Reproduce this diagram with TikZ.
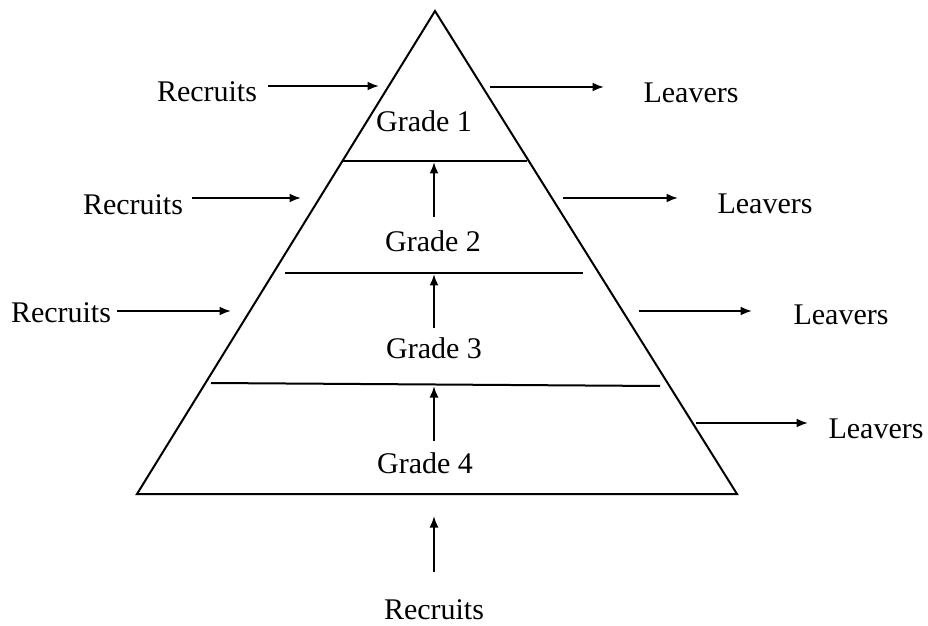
\documentclass[tikz,border=0pt]{standalone}
\usepackage{fontspec}
\setmainfont{Liberation Serif}
\usetikzlibrary{arrows.meta}
\begin{document}
\begin{tikzpicture}[x=0.4pt,y=-0.4pt,
  lbl/.style={font=\fontsize{12}{14}\selectfont, anchor=base, inner sep=0pt},
  edge/.style={line width=0.8pt, black},
  flow/.style={line width=0.8pt, -{Latex[length=4.6pt,width=3.6pt]}}]
\useasboundingbox (0,0) rectangle (928,626);

% pyramid outline
\coordinate (apex) at (435,11);
\coordinate (bl) at (137,494);
\coordinate (br) at (737,494);
\draw[edge, line join=miter] (apex) -- (bl) -- (br) -- cycle;

% grade boundaries
\coordinate (g1l) at (343,161); \coordinate (g1r) at (527,161);
\coordinate (g2l) at (285,273); \coordinate (g2r) at (583,273);
\coordinate (g3l) at (211,383); \coordinate (g3r) at (660,386);
\draw[edge] (g1l) -- (g1r);
\draw[edge] (g2l) -- (g2r);
\draw[edge] (g3l) -- (g3r);

% grade labels
\node[lbl] (grade1) at (424,132) {Grade 1};
\node[lbl] (grade2) at (433,252) {Grade 2};
\node[lbl] (grade3) at (434,358) {Grade 3};
\node[lbl] (grade4) at (425,474) {Grade 4};

% promotion arrows
\coordinate (p1s) at (434,217); \coordinate (p1e) at (434,162);
\coordinate (p2s) at (434,328); \coordinate (p2e) at (434,274);
\coordinate (p3s) at (434,441); \coordinate (p3e) at (434,386);
\draw[flow] (p1s) -- (p1e);
\draw[flow] (p2s) -- (p2e);
\draw[flow] (p3s) -- (p3e);

% recruits entering from the left
\node[lbl] (rec1) at (207,102) {Recruits};
\node[lbl] (rec2) at (133,215) {Recruits};
\node[lbl] (rec3) at (61,323) {Recruits};
\coordinate (r1s) at (268,86);  \coordinate (r1e) at (379,86);
\coordinate (r2s) at (192,198); \coordinate (r2e) at (301,198);
\coordinate (r3s) at (117,311); \coordinate (r3e) at (231,311);
\draw[flow] (r1s) -- (r1e);
\draw[flow] (r2s) -- (r2e);
\draw[flow] (r3s) -- (r3e);

% recruits entering at the base
\node[lbl] (rec4) at (434,619) {Recruits};
\coordinate (r4s) at (434,572); \coordinate (r4e) at (434,516);
\draw[flow] (r4s) -- (r4e);

% leavers exiting to the right
\node[lbl] (lv1) at (691,103) {Leavers};
\node[lbl] (lv2) at (765,214) {Leavers};
\node[lbl] (lv3) at (841,324) {Leavers};
\node[lbl] (lv4) at (876,438) {Leavers};
\coordinate (l1s) at (490,87);  \coordinate (l1e) at (604,87);
\coordinate (l2s) at (563,198); \coordinate (l2e) at (678,198);
\coordinate (l3s) at (639,311); \coordinate (l3e) at (752,311);
\coordinate (l4s) at (696,423); \coordinate (l4e) at (808,423);
\draw[flow] (l1s) -- (l1e);
\draw[flow] (l2s) -- (l2e);
\draw[flow] (l3s) -- (l3e);
\draw[flow] (l4s) -- (l4e);
\end{tikzpicture}
\end{document}
